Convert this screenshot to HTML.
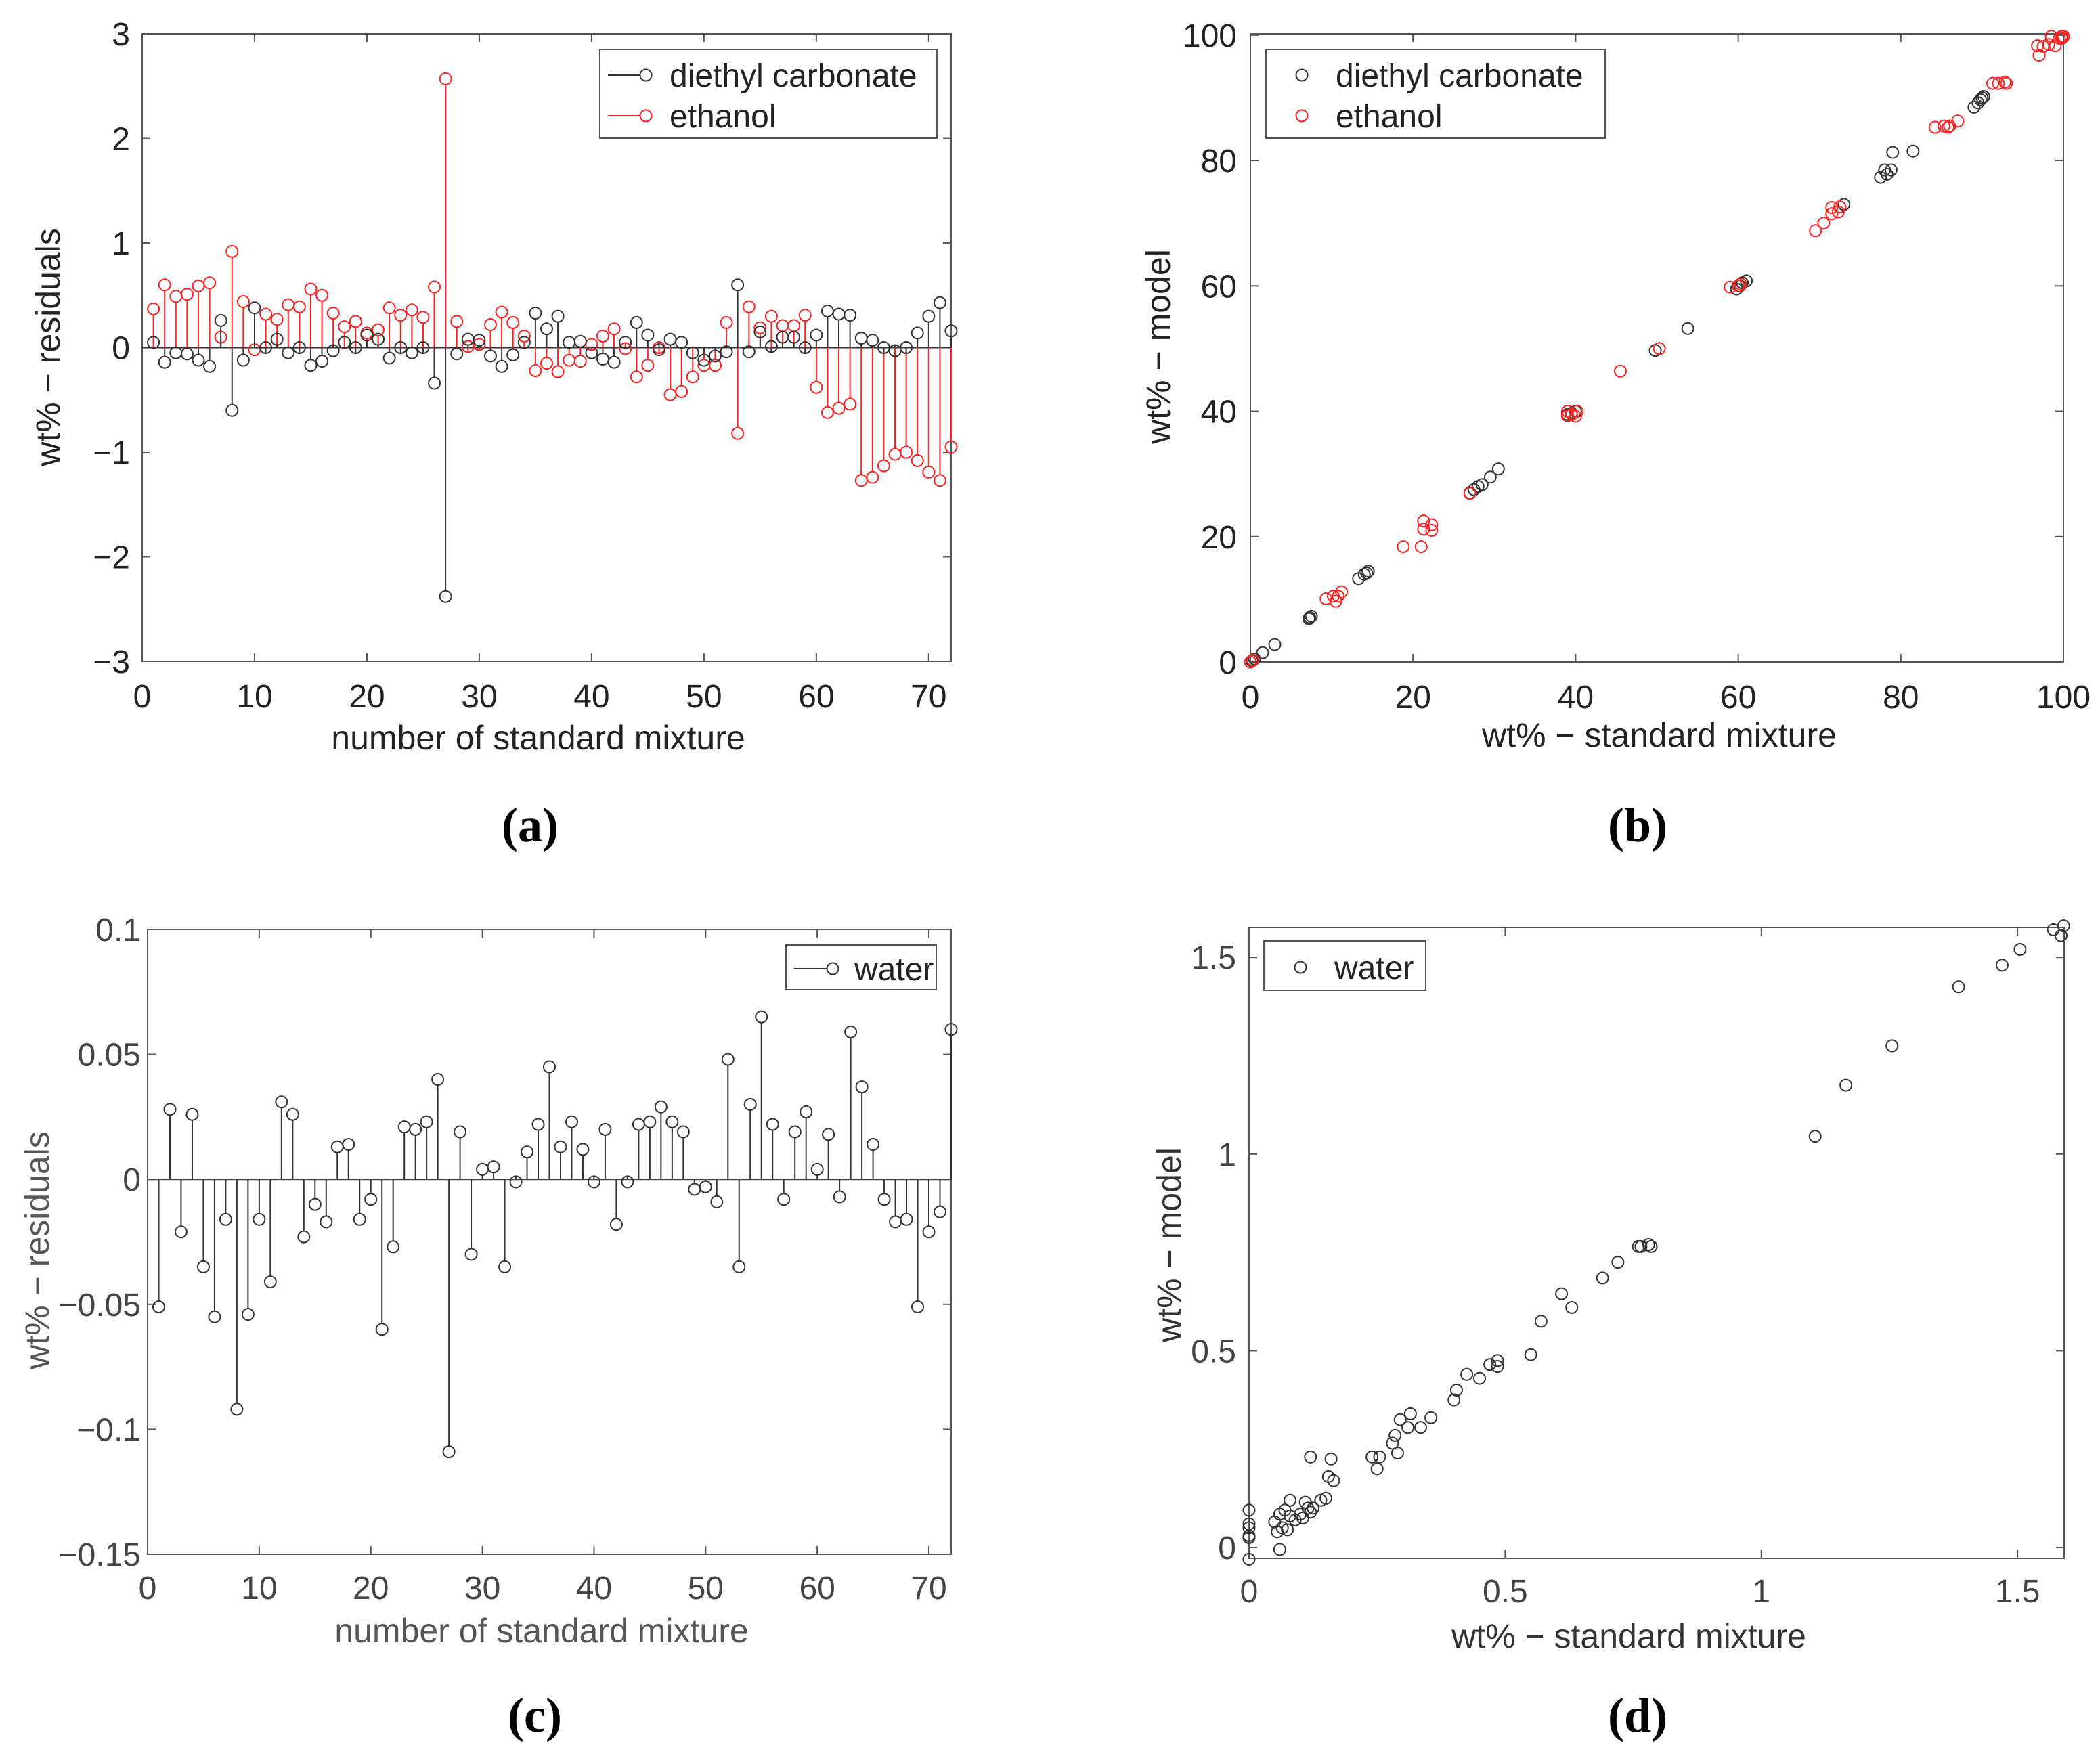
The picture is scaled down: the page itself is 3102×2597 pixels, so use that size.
<!DOCTYPE html>
<html><head><meta charset="utf-8"><style>
html,body{margin:0;padding:0;background:#fff;}
svg{display:block;font-family:"Liberation Sans",sans-serif;}
</style></head><body>
<svg id="fig" width="3102" height="2597" viewBox="0 0 3102 2597" xmlns="http://www.w3.org/2000/svg"></svg>
<script>
// ---------- data ----------
const nA = Array.from({length:72},(_,i)=>i+1);
const decResid = [0.05,-0.14,-0.05,-0.06,-0.12,-0.18,0.26,-0.6,-0.12,0.38,0.0,0.08,-0.05,0.0,-0.17,-0.13,-0.03,0.05,0.0,0.12,0.08,-0.1,0.0,-0.05,0.0,-0.34,-2.38,-0.06,0.08,0.07,-0.08,-0.18,-0.07,0.05,0.33,0.18,0.3,0.05,0.06,-0.05,-0.11,-0.14,0.05,0.24,0.12,-0.02,0.08,0.05,-0.05,-0.12,-0.08,-0.04,0.6,-0.04,0.15,0.01,0.1,0.1,0.0,0.12,0.35,0.32,0.31,0.09,0.07,0.0,-0.03,0.0,0.14,0.3,0.43,0.16];
const ethResid = [0.37,0.6,0.49,0.51,0.59,0.62,0.1,0.92,0.44,-0.02,0.32,0.27,0.41,0.39,0.56,0.5,0.33,0.2,0.25,0.14,0.17,0.38,0.31,0.36,0.29,0.58,2.57,0.25,0.01,0.03,0.22,0.34,0.24,0.11,-0.22,-0.15,-0.23,-0.12,-0.13,0.03,0.11,0.18,-0.01,-0.28,-0.17,0.0,-0.45,-0.42,-0.28,-0.17,-0.17,0.24,-0.82,0.39,0.19,0.3,0.21,0.21,0.31,-0.38,-0.62,-0.58,-0.54,-1.27,-1.24,-1.13,-1.02,-1.0,-1.08,-1.19,-1.27,-0.95];
const waterResid = [-0.051,0.028,-0.021,0.026,-0.035,-0.055,-0.016,-0.092,-0.054,-0.016,-0.041,0.031,0.026,-0.023,-0.010,-0.017,0.013,0.014,-0.016,-0.008,-0.060,-0.027,0.021,0.020,0.023,0.040,-0.109,0.019,-0.030,0.004,0.005,-0.035,-0.001,0.011,0.022,0.045,0.013,0.023,0.012,-0.001,0.020,-0.018,-0.001,0.022,0.023,0.029,0.023,0.019,-0.004,-0.003,-0.009,0.048,-0.035,0.030,0.065,0.022,-0.008,0.019,0.027,0.004,0.018,-0.007,0.059,0.037,0.014,-0.008,-0.017,-0.016,-0.051,-0.021,-0.013,0.060];
const decStdX = [0.2,0.5,1.5,3,7.3,7.5,7.2,13.3,14,14.5,14.3,27,27.5,28,28.5,29.5,30.5,39,39.5,40,49.8,53.8,59.8,60.2,60.5,61,73,77.5,78,78.3,78.8,79,81.5,89,89.5,89.8,90,90.2];
const decModelY = [0.2,0.5,1.5,2.8,7.1,7.3,6.9,13.3,14,14.5,14.2,27,27.5,28,28.3,29.5,30.8,39.5,39.7,40,49.7,53.2,59.5,60,60.5,60.8,73,77.3,78.5,77.8,78.5,81.3,81.5,88.5,89.2,89.7,90,90.2];
const ethStdX = [0,0.3,9.3,10.2,10.5,10.8,11.2,18.8,21,21.3,21.3,22.3,22.3,27,39,39,39.5,40.2,40,45.5,50.3,59,60,60.3,69.5,70.5,71.5,71.5,72.3,72.5,84.2,85.3,85.8,86,87,91.3,92,92.8,93,96.8,97,97.5,98.2,98.5,99,99.5,99.8,100,99.8];
const ethModelY = [0,0.3,10.1,10.5,9.7,10.5,11.2,18.4,18.4,21.2,22.5,21.9,21,26.9,39.3,40,39.5,40,39.2,46.4,50,59.8,60,60.3,68.8,70,71.5,72.5,71.8,72.6,85.3,85.5,85.3,85.5,86.3,92.3,92.3,92.5,92.3,98.3,96.8,98.2,98.5,99.8,98.3,99.5,99.8,99.8,99.5];
const waterStdX = [0,0,0,0,0,0,0.05,0.055,0.06,0.06,0.065,0.07,0.075,0.08,0.08,0.09,0.1,0.105,0.11,0.115,0.12,0.12,0.125,0.14,0.15,0.155,0.16,0.165,0.24,0.25,0.255,0.28,0.285,0.29,0.295,0.31,0.315,0.335,0.355,0.4,0.405,0.425,0.45,0.47,0.485,0.485,0.55,0.57,0.61,0.63,0.69,0.72,0.76,0.765,0.785,0.78,1.105,1.165,1.255,1.385,1.47,1.505,1.57,1.585,1.59];
const waterModelY = [0.095,0.06,0.05,0.025,0.03,-0.03,0.065,0.04,0.085,-0.005,0.05,0.095,0.045,0.12,0.08,0.07,0.085,0.075,0.115,0.1,0.09,0.23,0.1,0.12,0.125,0.18,0.225,0.17,0.23,0.2,0.23,0.265,0.285,0.24,0.325,0.305,0.34,0.305,0.33,0.375,0.4,0.44,0.43,0.465,0.475,0.46,0.49,0.575,0.645,0.61,0.685,0.725,0.765,0.765,0.765,0.77,1.045,1.175,1.275,1.425,1.48,1.52,1.57,1.555,1.58];
const ticksA_X=[0,10,20,30,40,50,60,70], ticksA_Y=[-3,-2,-1,0,1,2,3];
const ticksB=[0,20,40,60,80,100];
const ticksC_Y=[-0.15,-0.1,-0.05,0,0.05,0.1], ticksC_YLab=["\u22120.15","\u22120.1","\u22120.05","0","0.05","0.1"];
const ticksD=[0,0.5,1,1.5], ticksD_Lab=["0","0.5","1","1.5"];

// ---------- helpers ----------
const NS="http://www.w3.org/2000/svg";
const svg=document.getElementById('fig');
function mk(tag,attrs,parent,text){const e=document.createElementNS(NS,tag);for(const k in attrs)e.setAttribute(k,attrs[k]);if(text!==undefined)e.textContent=text;(parent||svg).appendChild(e);return e;}
function lab(v){return (v<0?"\u2212":"")+Math.abs(v);}
function axes(name,L,R,T,B,x0,x1,y0,y1,xt,yt,xl,yl,xBase,yRight,col){
  const g=mk('g',{},svg);
  const sx=v=>L+(v-x0)/(x1-x0)*(R-L), sy=v=>B-(v-y0)/(y1-y0)*(B-T);
  const fr=mk('rect',{x:L,y:T,width:R-L,height:B-T,fill:'none',stroke:'#555','stroke-width':2},g);
  
  xt.forEach((v,i)=>{const x=sx(v);
    mk('line',{x1:x,x2:x,y1:B,y2:B-12,stroke:'#555','stroke-width':2},g);
    mk('line',{x1:x,x2:x,y1:T,y2:T+12,stroke:'#555','stroke-width':2},g);
    const t=mk('text',{x:x,y:xBase,'font-size':48,'text-anchor':'middle',fill:col},g,xl[i]);
    });
  yt.forEach((v,i)=>{const y=sy(v);
    mk('line',{x1:L,x2:L+12,y1:y,y2:y,stroke:'#555','stroke-width':2},g);
    mk('line',{x1:R,x2:R-12,y1:y,y2:y,stroke:'#555','stroke-width':2},g);
    const t=mk('text',{x:yRight,y:y+17,'font-size':48,'text-anchor':'end',fill:col},g,yl[i]);
    });
  return {g,sx,sy};
}
function circ(g,x,y,c,name){const e=mk('circle',{cx:x,cy:y,r:8.5,fill:'none',stroke:c,'stroke-width':2},g);return e;}
function txt(x,y,s,size,anchor,name,extra){const a=Object.assign({x:x,y:y,'font-size':size,'text-anchor':anchor,fill:'#222'},extra||{});const t=mk('text',a,svg,s);return t;}
function legend(name,x,y,w,h,entries,stem){
  const g=mk('g',{},svg);
  mk('rect',{x:x,y:y,width:w,height:h,fill:'#fff',stroke:'#555','stroke-width':2},g);
  entries.forEach(e=>{
    if(stem){mk('line',{x1:e.lx,x2:e.cx-8,y1:e.y,y2:e.y,stroke:e.c,'stroke-width':2},g);}
    circ(g,e.cx,e.y,e.c,'legend-marker');
    const t=mk('text',{x:e.tx,y:e.y+17,'font-size':48,fill:'#222'},g,e.label);
    
  });
}
const PL={'font-family':'Liberation Serif, serif','font-weight':'bold',fill:'#000'};

// ---------- panel a ----------
(function(){
 const A=axes('panel-a-axes',210,1405,50,977,0,72,-3,3,ticksA_X,ticksA_Y,ticksA_X.map(lab),ticksA_Y.map(lab),1045,192,'#222');
 const y0=A.sy(0);
 const z=mk('line',{x1:210,x2:1405,y1:y0,y2:y0,stroke:'#333','stroke-width':2},A.g);
 const series=[[ethResid,'#ff2020','ethanol-stem'],[decResid,'#333','dec-stem']];
 series.forEach(([arr,c,nm])=>{arr.forEach((v,i)=>{const x=A.sx(nA[i]),y=A.sy(v);
   const l=mk('line',{x1:x,x2:x,y1:y0,y2:y+(v>=0?8.5:-8.5),stroke:c,'stroke-width':2},A.g);
   circ(A.g,x,y,c,nm+'-marker');});});
 legend('legend-a',886,73,498,131,[{lx:898,cx:954,tx:989,y:111,c:'#333',label:'diethyl carbonate'},{lx:898,cx:954,tx:989,y:171,c:'#ff2020',label:'ethanol'}],true);
 txt(795,1107,'number of standard mixture',50,'middle','x-axis-title-a');
 txt(0,0,'wt% \u2212 residuals',50,'middle','y-axis-title-a',{transform:'translate(88,513) rotate(-90)'});
 txt(783,1243,'(a)',72,'middle','panel-label-a',PL);
})();

// ---------- panel b ----------
(function(){
 const A=axes('panel-b-axes',1847,3048,50,978,0,100,0,100.2,ticksB,ticksB,ticksB.map(String),ticksB.map(String),1046,1827,'#222');
 decStdX.forEach((v,i)=>circ(A.g,A.sx(v),A.sy(decModelY[i]),'#333','dec-point'));
 ethStdX.forEach((v,i)=>circ(A.g,A.sx(v),A.sy(ethModelY[i]),'#ff2020','ethanol-point'));
 legend('legend-b',1870,73,501,131,[{cx:1923,tx:1973,y:111,c:'#333',label:'diethyl carbonate'},{cx:1923,tx:1973,y:171,c:'#ff2020',label:'ethanol'}],false);
 txt(2451,1103,'wt% \u2212 standard mixture',50,'middle','x-axis-title-b');
 txt(0,0,'wt% \u2212 model',50,'middle','y-axis-title-b',{transform:'translate(1728,512) rotate(-90)'});
 txt(2419,1243,'(b)',72,'middle','panel-label-b',PL);
})();

// ---------- panel c ----------
(function(){
 const A=axes('panel-c-axes',218,1405,1373,2296,0,72,-0.15,0.1,ticksA_X,ticksC_Y,ticksA_X.map(lab),ticksC_YLab,2362,208,'#444');
 const y0=A.sy(0);
 const z=mk('line',{x1:218,x2:1405,y1:y0,y2:y0,stroke:'#444','stroke-width':2},A.g);
 waterResid.forEach((v,i)=>{const x=A.sx(nA[i]),y=A.sy(v);
   const l=mk('line',{x1:x,x2:x,y1:y0,y2:y+(v>=0?8.5:-8.5),stroke:'#333','stroke-width':2},A.g);
   circ(A.g,x,y,'#333','water-marker');});
 legend('legend-c',1161,1396,222,66,[{lx:1173,cx:1230,tx:1262,y:1431,c:'#333',label:'water'}],true);
 txt(800,2426,'number of standard mixture',50,'middle','x-axis-title-c',{fill:'#555'});
 txt(0,0,'wt% \u2212 residuals',50,'middle','y-axis-title-c',{transform:'translate(72,1847) rotate(-90)',fill:'#555'});
 txt(790,2558,'(c)',72,'middle','panel-label-c',PL);
})();

// ---------- panel d ----------
(function(){
 const A=axes('panel-d-axes',1845,3049,1370,2302,0,1.591,-0.0275,1.576,ticksD,ticksD,ticksD_Lab,ticksD_Lab,2367,1826,'#444');
 waterStdX.forEach((v,i)=>circ(A.g,A.sx(v),A.sy(waterModelY[i]),'#333','water-point'));
 legend('legend-d',1867,1390,239,73,[{cx:1921,tx:1971,y:1429,c:'#333',label:'water'}],false);
 txt(2406,2434,'wt% \u2212 standard mixture',50,'middle','x-axis-title-d',{fill:'#333'});
 txt(0,0,'wt% \u2212 model',50,'middle','y-axis-title-d',{transform:'translate(1744,1839) rotate(-90)',fill:'#333'});
 txt(2419,2558,'(d)',72,'middle','panel-label-d',PL);
})();
</script>
</body></html>
